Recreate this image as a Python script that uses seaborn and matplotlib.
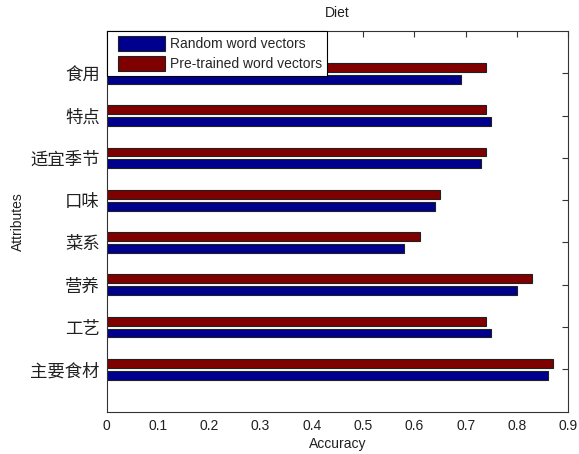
import matplotlib
matplotlib.use("Agg")
import matplotlib.pyplot as plt
import seaborn as sns
import pandas as pd
from matplotlib.patches import Patch, Rectangle
from matplotlib.legend_handler import HandlerPatch

# Attributes, listed top to bottom
attributes = ["食用", "特点", "适宜季节", "口味", "菜系", "营养", "工艺", "主要食材"]
random_acc = [0.69, 0.75, 0.73, 0.64, 0.58, 0.80, 0.75, 0.86]
pretrained_acc = [0.74, 0.74, 0.74, 0.65, 0.61, 0.83, 0.74, 0.87]
series_names = ["Random word vectors", "Pre-trained word vectors"]
x_ticks = [0, 0.1, 0.2, 0.3, 0.4, 0.5, 0.6, 0.7, 0.8, 0.9]

df = pd.DataFrame({
    "Attributes": attributes * 2,
    "Accuracy": random_acc + pretrained_acc,
    "Model": [series_names[0]] * len(attributes) + [series_names[1]] * len(attributes),
})

sns.set_style("white")
plt.rcParams["font.family"] = ["Liberation Sans", "Noto Sans CJK SC"]

colors = {series_names[0]: "#00008F", series_names[1]: "#800000"}

fig = plt.figure(figsize=(5.79, 4.54), dpi=100)
ax = fig.add_axes([0.1843, 0.0932, 0.7972, 0.8385])

sns.barplot(
    data=df, y="Attributes", x="Accuracy", hue="Model",
    order=attributes, hue_order=[series_names[1], series_names[0]],
    palette=colors, orient="h", width=0.56, gap=0.25,
    edgecolor="#202020", linewidth=0.8, saturation=1, ax=ax, legend=False,
)

ax.set_xlim(0, 0.9)
ax.set_ylim(len(attributes), -1)
ax.set_xticks(x_ticks)
ax.set_xticklabels([f"{t:g}" for t in x_ticks], fontsize=10, color="#202020")
ax.set_yticks(range(len(attributes)))
ax.set_yticklabels(attributes, fontsize=12.5, color="#202020",
                   family=["Noto Sans CJK SC", "Liberation Sans"])
ax.tick_params(axis="both", direction="in", length=4, width=0.8, color="#333333",
               top=True, right=True, pad=5)
for s in ax.spines.values():
    s.set_visible(True)
    s.set_color("#333333")
    s.set_linewidth(0.8)

ax.set_xlabel("Accuracy", fontsize=10, color="#202020", labelpad=3)
ax.set_ylabel("Attributes", fontsize=10, color="#202020", labelpad=4)
ax.set_title("Diet", fontsize=10, pad=10, color="#202020")


def inset_patch(legend, orig_handle, xdescent, ydescent, width, height, fontsize):
    # leave a wider margin on the left of each swatch
    inset = 0.4 * fontsize
    return Rectangle((-xdescent + inset, -ydescent), width - inset, height)


handles = [Patch(facecolor=colors[n], edgecolor="#202020", linewidth=0.8) for n in series_names]
leg = ax.legend(handles, series_names, loc="upper left", bbox_to_anchor=(0, 1),
                borderaxespad=0, fontsize=10, handlelength=3.8, handleheight=1.25,
                fancybox=False, framealpha=1, edgecolor="black", labelspacing=0.35,
                borderpad=0.38, handletextpad=0.35,
                handler_map={Patch: HandlerPatch(patch_func=inset_patch)})
leg.get_frame().set_linewidth(0.8)

fig.savefig("out.png", dpi=100)
